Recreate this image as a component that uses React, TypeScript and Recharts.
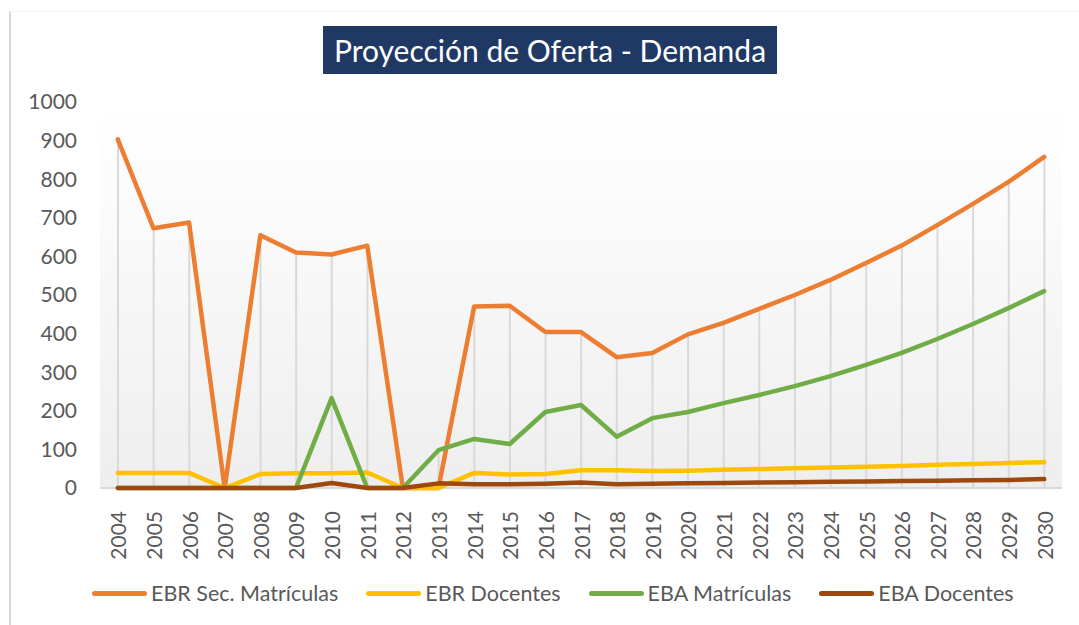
import React from 'react';
import { ComposedChart, Line, Bar, XAxis, YAxis, ReferenceArea } from 'recharts';

const years = [
  '2004', '2005', '2006', '2007', '2008', '2009', '2010', '2011', '2012', '2013',
  '2014', '2015', '2016', '2017', '2018', '2019', '2020', '2021', '2022', '2023',
  '2024', '2025', '2026', '2027', '2028', '2029', '2030',
];

const ebrSecMatriculas = [
  903, 673, 688, 0, 655, 610, 605, 628, 0, 0,
  470, 472, 404, 404, 339, 350, 398, 428, 464, 500,
  539, 583, 628, 681, 736, 793, 858,
];

const ebrDocentes = [
  39, 39, 39, 0, 36, 38, 38, 40, 0, 0,
  39, 35, 36, 46, 46, 44, 45, 47, 49, 51,
  53, 55, 57, 60, 62, 65, 67,
];

const ebaMatriculas = [
  0, 0, 0, 0, 0, 0, 233, 0, 0, 98,
  127, 114, 197, 215, 133, 181, 197, 220, 241, 264,
  290, 319, 350, 386, 425, 466, 510,
];

const ebaDocentes = [
  0, 0, 0, 0, 0, 0, 13, 0, 0, 12,
  10, 10, 11, 14, 10, 11, 12, 13, 14, 15,
  16, 17, 18, 19, 20, 21, 23,
];

const yTicks = [0, 100, 200, 300, 400, 500, 600, 700, 800, 900, 1000];

const series = [
  { key: 'ebrSec', name: 'EBR Sec. Matrículas', color: '#ED7D31' },
  { key: 'ebrDoc', name: 'EBR Docentes', color: '#FFC000' },
  { key: 'ebaMat', name: 'EBA Matrículas', color: '#70AD47' },
  { key: 'ebaDoc', name: 'EBA Docentes', color: '#9E480E' },
];

const data = years.map((year, i) => ({
  year,
  ebrSec: ebrSecMatriculas[i],
  ebrDoc: ebrDocentes[i],
  ebaMat: ebaMatriculas[i],
  ebaDoc: ebaDocentes[i],
  // Excel-style drop line from the highest point down to the axis
  drop: Math.max(ebrSecMatriculas[i], ebrDocentes[i], ebaMatriculas[i], ebaDocentes[i]),
}));

const FONT = 'Lato, "Open Sans", sans-serif';

function YearTick({ x, y, payload }: any) {
  return (
    <text
      x={0}
      y={0}
      transform={`translate(${x},${y + 15}) rotate(-90)`}
      textAnchor="end"
      dominantBaseline="central"
      fill="#595959"
      fontSize={21}
      fontFamily={FONT}
    >
      {payload.value}
    </text>
  );
}

// plot background + baseline, drawn underneath the series
function PlotBackground({ x, y, width, height }: any) {
  return (
    <g>
      <rect x={x} y={y} width={width} height={height} fill="url(#plotBg)" />
      <line x1={x} x2={x + width} y1={y + height} y2={y + height} stroke="#d9d9d9" strokeWidth={2} />
    </g>
  );
}

export default function App() {
  return (
    <div style={{ position: 'absolute', left: 0, top: 0, width: 1079, height: 625, background: '#fff', fontFamily: FONT }}>
      <svg width={0} height={0} style={{ position: 'absolute' }}>
        <defs>
          <linearGradient id="plotBg" x1="0" y1="0" x2="0" y2="1">
            <stop offset="0" stopColor="#ffffff" />
            <stop offset="0.15" stopColor="#fdfdfd" />
            <stop offset="1" stopColor="#eeeeee" />
          </linearGradient>
        </defs>
      </svg>

      <div style={{ position: 'absolute', left: 9, top: 11, width: 2, height: 614, background: '#d9d9d9' }} />
      <div style={{ position: 'absolute', left: 9, top: 11, width: 1070, height: 1, background: '#f3f3f3' }} />

      <div
        style={{
          position: 'absolute', left: 323, top: 26, width: 454, height: 48,
          background: '#203864', color: '#ffffff', fontSize: 30,
          display: 'flex', alignItems: 'center', justifyContent: 'center',
        }}
      >
        Proyección de Oferta - Demanda
      </div>

      <ComposedChart
        width={1079}
        height={625}
        data={data}
        margin={{ top: 102, right: 17, bottom: 57, left: 0 }}
        style={{ position: 'absolute', left: 0, top: 0 }}
      >
        <ReferenceArea y1={0} y2={1000} shape={<PlotBackground />} />
        <XAxis
          dataKey="year"
          interval={0}
          height={80}
          axisLine={false}
          tickLine={false}
          tick={<YearTick />}
        />
        <YAxis
          domain={[0, 1000]}
          ticks={yTicks}
          width={100}
          axisLine={false}
          tickLine={false}
          tickSize={0}
          tickMargin={23}
          tick={{ fill: '#595959', fontSize: 21, fontFamily: FONT }}
        />
        <Bar dataKey="drop" barSize={2} fill="#d9d9d9" isAnimationActive={false} />
        {series.map((s) => (
          <Line
            key={s.key}
            type="linear"
            dataKey={s.key}
            name={s.name}
            stroke={s.color}
            strokeWidth={4.5}
            strokeLinecap="round"
            strokeLinejoin="round"
            dot={false}
            activeDot={false}
            isAnimationActive={false}
          />
        ))}
      </ComposedChart>

      <div style={{ position: 'absolute', left: 92, top: 580, height: 26, display: 'flex', alignItems: 'center' }}>
        {series.map((s) => (
          <div key={s.key} style={{ display: 'flex', alignItems: 'center', marginRight: 28 }}>
            <div style={{ width: 55, height: 5, borderRadius: 3, background: s.color, marginRight: 4 }} />
            <span style={{ fontSize: 21.5, color: '#595959', whiteSpace: 'nowrap' }}>{s.name}</span>
          </div>
        ))}
      </div>
    </div>
  );
}
